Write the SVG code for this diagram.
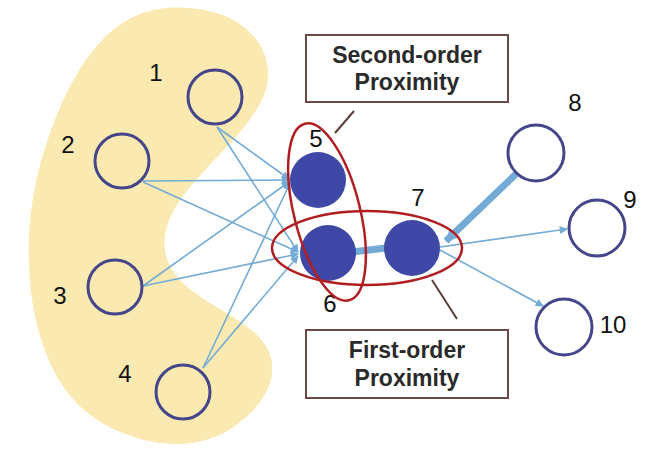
<svg xmlns="http://www.w3.org/2000/svg" width="655" height="461" viewBox="0 0 655 461">
<style>
.open{fill:none;stroke:#45458a;stroke-width:3}
.filled{fill:#3f48a6;stroke:none}
.num{font-family:"Liberation Sans",Arial,sans-serif;font-size:24px;fill:#111}
.edge{stroke:#73abd6;stroke-width:1.6;fill:none}
.thick{stroke:#73abd6;stroke-width:7;fill:none}
.ring{fill:none;stroke:#b01e22;stroke-width:2.5}
.box{fill:#fff;stroke:#6b4a45;stroke-width:2}
.lbl{font-family:"Liberation Sans",Arial,sans-serif;font-size:23px;font-weight:bold;fill:#2a2a2a;text-anchor:middle}
.ptr{stroke:#5a3e3a;stroke-width:2}
</style>
<defs>
<marker id="ah" viewBox="0 0 10 10" refX="9" refY="5" markerWidth="10" markerHeight="8" markerUnits="userSpaceOnUse" orient="auto">
<path d="M0,0 L10,5 L0,10 Z" fill="#73abd6"/>
</marker>
<marker id="ahb" viewBox="0 0 10 10" refX="9" refY="5" markerWidth="14" markerHeight="12" markerUnits="userSpaceOnUse" orient="auto">
<path d="M0,0 L10,5 L0,10 Z" fill="#73abd6"/>
</marker>
</defs>
<rect width="655" height="461" fill="#fff"/>
<path id="blob" d="M167,8 C220,4 266,28 268,72 C270,108 232,140 198,178 C166,212 150,250 182,282 C206,306 250,320 266,346 C282,372 266,402 240,422 C212,446 168,452 120,432 C72,412 44,372 32,300 C24,240 30,180 58,112 C86,48 118,12 167,8 Z" fill="#fae9b0"/>
<g id="connectors">
<line class="edge" x1="217" y1="127" x2="289" y2="179" marker-end="url(#ah)"/>
<line class="edge" x1="217" y1="127" x2="298" y2="252" marker-end="url(#ah)"/>
<line class="edge" x1="143" y1="181" x2="289" y2="180" marker-end="url(#ah)"/>
<line class="edge" x1="143" y1="182" x2="298" y2="252" marker-end="url(#ah)"/>
<line class="edge" x1="143" y1="286" x2="289" y2="182" marker-end="url(#ah)"/>
<line class="edge" x1="143" y1="286" x2="298" y2="254" marker-end="url(#ah)"/>
<line class="edge" x1="203" y1="368" x2="290" y2="183" marker-end="url(#ah)"/>
<line class="edge" x1="203" y1="368" x2="298" y2="256" marker-end="url(#ah)"/>
<line class="thick" x1="352" y1="252" x2="386" y2="248"/>
<line class="thick" x1="516" y1="174" x2="446" y2="241" stroke-width="5" marker-end="url(#ahb)"/>
<line class="edge" x1="440" y1="247" x2="567" y2="229" marker-end="url(#ah)"/>
<line class="edge" x1="440" y1="250" x2="543" y2="306" marker-end="url(#ah)"/>
</g>
<g id="n1"><circle class="open" cx="215" cy="97" r="27"/><text class="num" x="156" y="81" text-anchor="middle">1</text></g>
<g id="n2"><circle class="open" cx="122" cy="161" r="27"/><text class="num" x="68" y="153" text-anchor="middle">2</text></g>
<g id="n3"><circle class="open" cx="115" cy="287" r="27"/><text class="num" x="60" y="304" text-anchor="middle">3</text></g>
<g id="n4"><circle class="open" cx="183" cy="392" r="27"/><text class="num" x="125" y="382" text-anchor="middle">4</text></g>
<g id="n5"><circle class="filled" cx="318" cy="180" r="28"/><text class="num" x="316" y="147" text-anchor="middle">5</text></g>
<g id="n6"><circle class="filled" cx="328" cy="253" r="28"/><text class="num" x="330" y="312" text-anchor="middle">6</text></g>
<g id="n7"><circle class="filled" cx="412" cy="248" r="28"/><text class="num" x="418" y="206" text-anchor="middle">7</text></g>
<g id="n8"><circle class="open" cx="536" cy="153" r="28"/><text class="num" x="575" y="111" text-anchor="middle">8</text></g>
<g id="n9"><circle class="open" cx="597" cy="228" r="28"/><text class="num" x="630" y="208" text-anchor="middle">9</text></g>
<g id="n10"><circle class="open" cx="564" cy="327" r="28"/><text class="num" x="613" y="333" text-anchor="middle">10</text></g>
<g id="second-order-ring"><ellipse class="ring" cx="327" cy="212" rx="33" ry="91" transform="rotate(-14 327 212)"/></g>
<g id="first-order-ring"><ellipse class="ring" cx="367" cy="248" rx="95" ry="37"/></g>
<g id="second-order">
<line class="ptr" x1="354" y1="111" x2="335" y2="133"/>
<rect class="box" x="306" y="35" width="202" height="67"/>
<text class="lbl" x="407" y="63">Second-order</text>
<text class="lbl" x="407" y="90">Proximity</text>
</g>
<g id="first-order">
<line class="ptr" x1="432" y1="280" x2="457" y2="319"/>
<rect class="box" x="306" y="330" width="202" height="68"/>
<text class="lbl" x="407" y="358">First-order</text>
<text class="lbl" x="407" y="386">Proximity</text>
</g>
</svg>
